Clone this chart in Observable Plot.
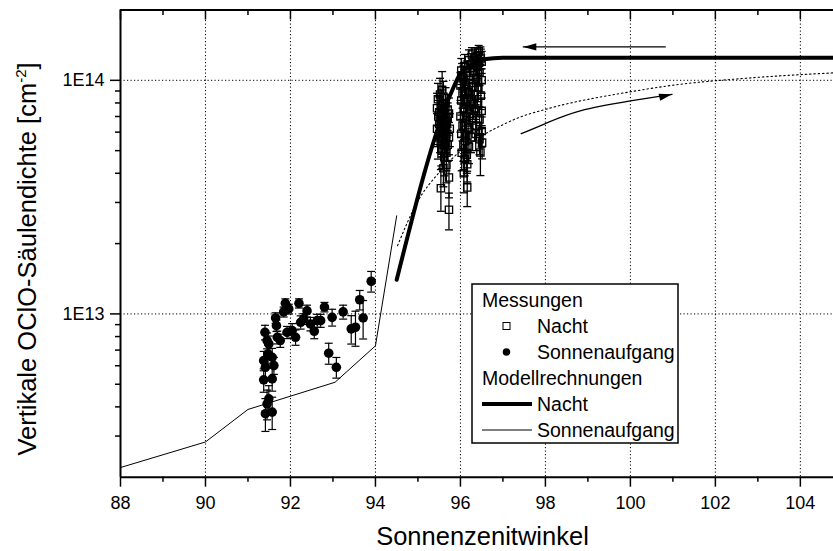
<!DOCTYPE html>
<html><head><meta charset="utf-8">
<script src="https://cdn.jsdelivr.net/npm/d3@7"></script>
<script src="https://cdn.jsdelivr.net/npm/@observablehq/plot@0.6"></script>
<style>body{margin:0;background:#fff;} svg{display:block;}</style>
</head><body><div id="chart"></div>
<script>
// ---- axes / ticks ----
const xDomain = [88, 104.78];
const yDomain = [2e12, 2e14];
const xTicksMajor = [88, 90, 92, 94, 96, 98, 100, 102, 104];
const xTicksMinor = [89, 91, 93, 95, 97, 99, 101, 103];
const xGrid = [90, 92, 94, 96, 98, 100, 102, 104];
const yTicksMajor = [1e13, 1e14];
const yTickLabels = ["1E13", "1E14"];
const yTicksMinor = [3e12, 4e12, 5e12, 6e12, 7e12, 8e12, 9e12, 2e13, 3e13, 4e13, 5e13, 6e13, 7e13, 8e13, 9e13];
const xTitle = "Sonnenzenitwinkel";
const yTitle = "Vertikale OClO-Säulendichte [cm";
const yTitleSup = "-2";

// ---- model: Sonnenaufgang (thin) ----
const sunModelX = [88, 90, 91, 93.05, 94, 94.5];
const sunModelY = [2.2e12, 2.83e12, 3.9e12, 5.1e12, 7.3e12, 2.63e13];
// ---- model: Nacht (thick) ----
const nightModelX = [94.5, 95.8, 96.0, 96.25, 96.55, 97.0, 104.8];
const nightModelY = [1.40e13, 9.0e13, 1.07e14, 1.16e14, 1.23e14, 1.25e14, 1.25e14];
// ---- model: dotted curve ----
const dottedX = [94.52, 94.98, 95.53, 96.63, 96.94, 97.37, 98.0, 100.0, 101.18, 102.4, 104.8];
const dottedY = [1.96e13, 3.0e13, 4.09e13, 5.97e13, 6.38e13, 6.92e13, 7.51e13, 8.93e13, 9.62e13, 1.01e14, 1.077e14];

// ---- measurements: Sonnenaufgang (filled circles) ----
const sunX = [91.40, 91.45, 91.49, 91.37, 91.57, 91.61, 91.41, 91.37, 91.57, 91.49, 91.45, 91.41, 91.57, 91.47,
  91.65, 91.67, 91.69, 91.76, 91.88, 91.84, 91.96, 92.04, 91.92, 92.12, 92.20, 92.24, 92.31, 92.39, 92.47,
  92.56, 92.63, 92.71, 92.80, 92.98, 92.90, 93.08, 93.24, 93.43, 93.53, 93.63, 93.71, 93.90];
const sunV = [8.34e12, 7.69e12, 7.44e12, 6.31e12, 6.52e12, 6.01e12, 5.91e12, 5.22e12, 5.27e12, 4.33e12, 4.12e12, 3.74e12, 3.80e12, 6.75e12,
  9.61e12, 8.91e12, 7.94e12, 7.69e12, 1.11e13, 1.02e13, 1.05e13, 8.49e12, 8.34e12, 7.94e12, 1.11e13, 9.21e12, 9.52e12, 1.03e13, 9.06e12,
  8.43e12, 9.36e12, 9.36e12, 1.07e13, 9.67e12, 6.79e12, 5.91e12, 1.02e13, 8.63e12, 8.77e12, 1.15e13, 9.61e12, 1.38e13];
const sunErr = [0.6e12, 0.6e12, 0.6e12, 0.6e12, 0.6e12, 0.5e12, 0.6e12, 0.6e12, 0.6e12, 0.6e12, 0.6e12, 0.6e12, 0.6e12, 0.6e12,
  0.5e12, 0.5e12, 0.5e12, 0.5e12, 0.5e12, 0.5e12, 0.5e12, 0.6e12, 0.5e12, 0.6e12, 0.5e12, 0.6e12, 0.5e12, 0.6e12, 0.6e12,
  0.6e12, 0.6e12, 0.6e12, 0.5e12, 0.8e12, 0.7e12, 0.6e12, 0.7e12, 1.2e12, 1.5e12, 1.1e12, 1.8e12, 1.4e12];

// ---- measurements: Nacht (open squares) ----
const nightX = [95.57, 95.47, 95.52, 95.60, 95.65, 95.45, 95.55, 95.70, 95.48, 95.73, 95.58, 95.62, 95.50, 95.68, 95.45, 95.55, 95.75,
  95.60, 95.52, 95.66, 95.73, 95.47, 95.58, 95.63, 95.70, 95.55, 95.57, 95.67, 95.62, 95.67, 95.60, 95.73, 95.54, 95.73,
  96.27, 96.43, 96.38, 96.47, 96.20, 96.33, 96.50, 96.10, 96.25, 96.40, 96.02, 96.15, 96.30, 96.45, 96.07, 96.22, 96.37, 96.50,
  96.00, 96.12, 96.28, 96.42, 96.05, 96.18, 96.33, 96.48, 96.02, 96.15, 96.25, 96.40, 96.08, 96.20, 96.35, 96.50, 96.00, 96.13,
  96.28, 96.45, 96.05, 96.18, 96.38, 96.50, 96.02, 96.12, 96.25, 96.45, 96.07, 96.20, 96.51, 96.47, 96.03, 96.15, 96.10, 96.16,
  96.08, 96.16,
  95.50, 95.64, 95.56, 95.70, 96.04, 96.10, 96.23, 96.32, 96.41, 96.48, 96.14, 96.30, 96.36, 96.44];
const nightV = [9.1e13, 8.3e13, 8.7e13, 8.5e13, 8.0e13, 7.6e13, 7.8e13, 7.5e13, 7.0e13, 7.2e13, 7.1e13, 6.8e13, 6.5e13, 6.6e13, 6.2e13, 6.3e13, 6.2e13,
  6.0e13, 5.8e13, 5.8e13, 5.7e13, 5.5e13, 5.5e13, 5.3e13, 5.3e13, 5.1e13, 5.0e13, 4.9e13, 4.7e13, 4.34e13, 4.2e13, 3.84e13, 3.45e13, 2.79e13,
  1.29e14, 1.33e14, 1.27e14, 1.28e14, 1.22e14, 1.24e14, 1.20e14, 1.15e14, 1.17e14, 1.15e14, 1.10e14, 1.08e14, 1.10e14, 1.08e14, 1.02e14, 1.00e14, 1.02e14, 1.00e14,
  9.5e13, 9.6e13, 9.4e13, 9.3e13, 8.8e13, 8.9e13, 8.7e13, 8.6e13, 8.2e13, 8.1e13, 8.3e13, 8.0e13, 7.6e13, 7.5e13, 7.6e13, 7.4e13, 7.0e13, 7.0e13,
  6.9e13, 6.8e13, 6.4e13, 6.3e13, 6.4e13, 6.07e13, 5.9e13, 5.8e13, 5.7e13, 5.6e13, 5.3e13, 5.2e13, 5.41e13, 4.91e13, 4.9e13, 4.8e13, 4.6e13, 4.37e13,
  4.0e13, 3.48e13,
  7.3e13, 6.4e13, 5.6e13, 6.9e13, 1.05e14, 9.0e13, 7.2e13, 1.13e14, 9.8e13, 1.24e14, 6.6e13, 7.9e13, 5.9e13, 1.19e14];
const nightErr = [1.8e13, 1.4e13, 1.5e13, 1.4e13, 1.3e13, 1.2e13, 1.3e13, 1.2e13, 1.2e13, 1.2e13, 1.1e13, 1.1e13, 1.0e13, 1.1e13, 1.0e13, 1.0e13, 1.0e13,
  0.9e13, 0.9e13, 0.9e13, 0.9e13, 0.9e13, 0.8e13, 0.8e13, 0.8e13, 0.8e13, 0.8e13, 0.8e13, 0.8e13, 0.7e13, 0.7e13, 0.7e13, 0.7e13, 0.5e13,
  0.9e13, 0.8e13, 1.1e13, 1.1e13, 1.3e13, 1.2e13, 1.3e13, 1.4e13, 1.3e13, 1.3e13, 1.4e13, 1.3e13, 1.3e13, 1.3e13, 1.3e13, 1.3e13, 1.2e13, 1.2e13,
  1.3e13, 1.2e13, 1.2e13, 1.2e13, 1.2e13, 1.2e13, 1.1e13, 1.1e13, 1.1e13, 1.1e13, 1.1e13, 1.0e13, 1.0e13, 1.0e13, 1.0e13, 1.0e13, 1.0e13, 1.0e13,
  0.9e13, 0.9e13, 0.9e13, 0.9e13, 0.9e13, 0.9e13, 0.9e13, 0.9e13, 0.8e13, 0.8e13, 0.8e13, 0.8e13, 0.8e13, 1.0e13, 0.8e13, 0.8e13, 0.7e13, 0.7e13,
  0.7e13, 0.6e13,
  1.2e13, 1.0e13, 0.9e13, 1.1e13, 1.3e13, 1.2e13, 1.0e13, 1.3e13, 1.2e13, 1.2e13, 1.0e13, 1.1e13, 0.9e13, 1.2e13];

// ---- annotation arrows ----
const arrowTopX = [100.82, 97.48];
const arrowTopY = [1.39e14, 1.39e14];
const arrowLowX = [97.43, 98.0, 98.82, 100.0, 100.98];
const arrowLowY = [5.91e13, 6.53e13, 7.40e13, 8.16e13, 8.71e13];

// ---- legend ----
const legendLabels = ["Messungen", "Nacht", "Sonnenaufgang", "Modellrechnungen", "Nacht", "Sonnenaufgang"];

// tables
const toPts = (xs, ys) => xs.map((x, i) => ({x, y: ys[i]}));
const toErr = (xs, vs, es) => xs.map((x, i) => ({x, v: vs[i], lo: vs[i] - es[i], hi: vs[i] + es[i]}));
const sunData = toErr(sunX, sunV, sunErr);
const nightData = toErr(nightX, nightV, nightErr);

const capSymbol = {draw(ctx) { ctx.moveTo(-4, 0); ctx.lineTo(4, 0); }};
const headSymbol = {draw(ctx) { ctx.moveTo(0, 0); ctx.lineTo(-13, -3.6); ctx.lineTo(-13, 3.6); ctx.closePath(); }};

const W = 833, H = 551, mL = 120, mR = 0, mT = 9.5, mB = 74.3;
const plotH = H - mT - mB;
const FONT = "'Liberation Sans', Arial, Helvetica, sans-serif";
const grid = {stroke: "black", strokeWidth: 1, strokeDasharray: "1.2,2.3"};

const svg = Plot.plot({
  width: W, height: H,
  marginLeft: mL, marginRight: mR, marginTop: mT, marginBottom: mB,
  style: {fontFamily: FONT, background: "white", color: "black"},
  x: {domain: xDomain},
  y: {type: "log", domain: yDomain},
  marks: [
    Plot.ruleX(xGrid, grid),
    Plot.ruleY(yTicksMajor, grid),
    Plot.line(toPts(dottedX, dottedY), {x: "x", y: "y", stroke: "black", strokeWidth: 1.1, strokeDasharray: "1.5,2.8", curve: "monotone-x", clip: true}),
    Plot.line(toPts(sunModelX, sunModelY), {x: "x", y: "y", stroke: "black", strokeWidth: 1}),
    // night measurements
    Plot.ruleX(nightData, {x: "x", y1: "lo", y2: "hi", stroke: "black", strokeWidth: 1.3}),
    Plot.dot(nightData, {x: "x", y: "hi", symbol: capSymbol, stroke: "black", fill: "none", strokeWidth: 1.3}),
    Plot.dot(nightData, {x: "x", y: "lo", symbol: capSymbol, stroke: "black", fill: "none", strokeWidth: 1.3}),
    Plot.dot(nightData, {x: "x", y: "v", symbol: "square", r: 4.1, stroke: "black", fill: "none", strokeWidth: 1.3}),
    // sunrise measurements
    Plot.ruleX(sunData, {x: "x", y1: "lo", y2: "hi", stroke: "black", strokeWidth: 1.2}),
    Plot.dot(sunData, {x: "x", y: "hi", symbol: capSymbol, stroke: "black", fill: "none", strokeWidth: 1.2}),
    Plot.dot(sunData, {x: "x", y: "lo", symbol: capSymbol, stroke: "black", fill: "none", strokeWidth: 1.2}),
    Plot.dot(sunData, {x: "x", y: "v", r: 4.8, fill: "black", stroke: "none"}),
    // thick model line
    Plot.line(toPts(nightModelX, nightModelY), {x: "x", y: "y", stroke: "black", strokeWidth: 4, curve: "monotone-x", clip: true}),
    // arrows
    Plot.line(toPts(arrowTopX, arrowTopY), {x: "x", y: "y", stroke: "black", strokeWidth: 1.3}),
    Plot.dot(toPts(arrowTopX, arrowTopY).slice(-1), {x: "x", y: "y", symbol: headSymbol, fill: "black", stroke: "none", rotate: 180}),
    Plot.line(toPts(arrowLowX, arrowLowY), {x: "x", y: "y", stroke: "black", strokeWidth: 1.3, curve: "natural"}),
    Plot.dot(toPts(arrowLowX, arrowLowY).slice(-1), {x: "x", y: "y", symbol: headSymbol, fill: "black", stroke: "none", rotate: -13}),
    // axes
    Plot.axisX(xTicksMajor, {anchor: "bottom", tickSize: 10, tickPadding: 9, fontSize: 18, strokeWidth: 1.5, label: null, tickFormat: d => String(d)}),
    Plot.axisX(xTicksMinor, {anchor: "bottom", tickSize: 5, strokeWidth: 1.5, label: null, tickFormat: () => ""}),
    Plot.ruleX(xTicksMajor, {stroke: "black", strokeWidth: 1.5, insetBottom: plotH - 10}),
    Plot.ruleX(xTicksMinor, {stroke: "black", strokeWidth: 1.5, insetBottom: plotH - 5.5}),
    Plot.axisY(yTicksMajor, {anchor: "left", tickSize: 10, tickPadding: 6, fontSize: 18, strokeWidth: 1.5, label: null,
      tickFormat: d => yTickLabels[yTicksMajor.indexOf(d)]}),
    Plot.axisY(yTicksMinor, {anchor: "left", tickSize: 5, strokeWidth: 1.5, label: null, tickFormat: () => ""}),
    Plot.ruleY([yDomain[0]], {stroke: "black", strokeWidth: 2}),
    Plot.ruleY([yDomain[1]], {stroke: "black", strokeWidth: 2}),
    Plot.ruleX([xDomain[0]], {stroke: "black", strokeWidth: 2})
  ]
});

const s = d3.select(svg);
// axis titles
s.append("text").attr("x", 482.5).attr("y", 545).attr("text-anchor", "middle")
  .attr("font-family", FONT).attr("font-size", 25.5).attr("fill", "black").text(xTitle);
const yt = s.append("text").attr("transform", "translate(36,259) rotate(-90)").attr("text-anchor", "middle")
  .attr("font-family", FONT).attr("font-size", 25.5).attr("fill", "black");
yt.append("tspan").text(yTitle);
yt.append("tspan").attr("font-size", 15).attr("dy", -10).text(yTitleSup);
yt.append("tspan").attr("dy", 10).text("]");

// legend
const lg = s.append("g").attr("font-family", FONT).attr("font-size", 19.5).attr("fill", "black").attr("text-anchor", "start");
lg.append("rect").attr("x", 472).attr("y", 284).attr("width", 206).attr("height", 159)
  .attr("fill", "white").attr("stroke", "black").attr("stroke-width", 1.5);
const rowY = i => 300 + 26 * i;
legendLabels.forEach((t, i) => {
  const header = (i === 0 || i === 3);
  lg.append("text").attr("x", header ? 482 : 537).attr("y", rowY(i) + 6.5).attr("text-anchor", "start").text(t);
});
lg.append("rect").attr("x", 503).attr("y", rowY(1) - 3.5).attr("width", 7).attr("height", 7)
  .attr("fill", "none").attr("stroke", "black").attr("stroke-width", 1);
lg.append("circle").attr("cx", 506.5).attr("cy", rowY(2)).attr("r", 3.8).attr("fill", "black");
lg.append("line").attr("x1", 482).attr("x2", 532).attr("y1", rowY(4)).attr("y2", rowY(4)).attr("stroke", "black").attr("stroke-width", 4);
lg.append("line").attr("x1", 482).attr("x2", 532).attr("y1", rowY(5)).attr("y2", rowY(5)).attr("stroke", "black").attr("stroke-width", 1);

document.getElementById("chart").appendChild(svg);
</script>
</body></html>
